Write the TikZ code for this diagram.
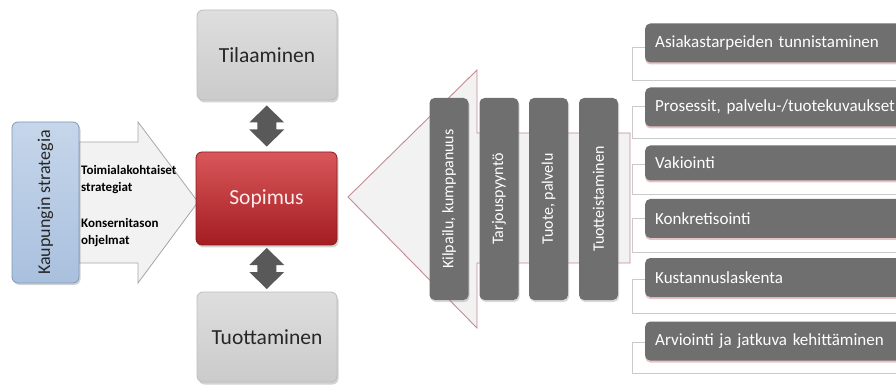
\documentclass[tikz,border=0pt]{standalone}
\usepackage{fontspec}
\setmainfont{Carlito}
\usetikzlibrary{shadows,calc}
\definecolor{bluefillA}{HTML}{C6D6EA}
\definecolor{bluefillB}{HTML}{A9C0DE}
\definecolor{blueline}{HTML}{7F97B8}
\definecolor{arrowfill}{HTML}{F2F2F2}
\definecolor{arrowline}{HTML}{A6A6A6}
\definecolor{grayA}{HTML}{DEDEDE}
\definecolor{grayB}{HTML}{CBCBCB}
\definecolor{grayline}{HTML}{BDBDBD}
\definecolor{redA}{HTML}{D9575A}
\definecolor{redB}{HTML}{A31D21}
\definecolor{redline}{HTML}{8C1A1D}
\definecolor{darkarrow}{HTML}{595959}
\definecolor{pinkline}{HTML}{C48A92}
\definecolor{barfill}{HTML}{6F6F6F}
\definecolor{bracketline}{HTML}{CACACA}
\definecolor{pinkshadow}{HTML}{E6C3C6}
\definecolor{textdark}{HTML}{262626}
\newcommand{\myudarrow}[1]{%
  \fill[udarrow] ($(#1)+(0,-20.5)$) -- ($(#1)+(17.5,-3.5)$) -- ($(#1)+(9.5,-3.5)$) -- ($(#1)+(9.5,3.5)$)
    -- ($(#1)+(17.5,3.5)$) -- ($(#1)+(0,20.5)$) -- ($(#1)+(-17.5,3.5)$) -- ($(#1)+(-9.5,3.5)$)
    -- ($(#1)+(-9.5,-3.5)$) -- ($(#1)+(-17.5,-3.5)$) -- cycle;}
\begin{document}
\begin{tikzpicture}[x=1pt,y=-1pt,
  stratbox/.style={draw=blueline, line width=0.8pt, top color=bluefillA, bottom color=bluefillB,
    rounded corners=6pt, minimum width=67pt, minimum height=161pt, inner sep=0pt,
    text=textdark, font=\fontsize{18}{20}\selectfont,
    drop shadow={shadow xshift=1.5pt, shadow yshift=-2pt, opacity=0.35}},
  larrow/.style={draw=arrowline, line width=0.8pt, fill=arrowfill},
  armtext/.style={anchor=west, align=left, inner sep=0pt, font=\fontsize{13}{17}\selectfont\bfseries, text=black},
  graybox/.style={draw=grayline, line width=0.8pt, top color=grayA, bottom color=grayB,
    rounded corners=6pt, minimum width=140pt, minimum height=90pt, inner sep=0pt,
    text=textdark, font=\fontsize{21.5}{24}\selectfont,
    drop shadow={shadow xshift=1.5pt, shadow yshift=-2.5pt, opacity=0.35}},
  redbox/.style={draw=redline, line width=0.8pt, top color=redA, bottom color=redB,
    rounded corners=6pt, minimum width=141pt, minimum height=93pt, inner sep=0pt,
    text=white!92!red, font=\fontsize{21.5}{24}\selectfont,
    drop shadow={shadow xshift=1.5pt, shadow yshift=-2.5pt, opacity=0.35}},
  udarrow/.style={fill=darkarrow},
  bigarrow/.style={draw=pinkline, line width=0.9pt, fill=arrowfill},
  vbar/.style={fill=barfill, rounded corners=5pt, minimum width=39pt, minimum height=202pt,
    inner sep=0pt, text=white, font=\fontsize{16}{18}\selectfont,
    drop shadow={shadow xshift=1pt, shadow yshift=-2pt, opacity=0.3}},
  hbar/.style={fill=barfill, rounded corners=5pt, anchor=west, minimum height=39pt,
    text width=250pt, align=left, inner xsep=10pt, inner ysep=0pt, text=white,
    font=\fontsize{17}{19}\selectfont,
    drop shadow={shadow xshift=0pt, shadow yshift=-2pt, opacity=1, fill=pinkshadow}},
  bracket/.style={draw=bracketline, line width=0.8pt}
]
\useasboundingbox (0,0) rectangle (896,387);

% left big arrow and strategy box
\draw[larrow] (79,142) -- (138,142) -- (138,122) -- (198,202) -- (138,283) -- (138,263) -- (79,263) -- cycle;
\node[stratbox] (strat) at (45.5,202.5) {\rotatebox{90}{Kaupungin strategia}};
\node[armtext] (t1) at (81,180) {Toimialakohtaiset\\strategiat};
\node[armtext] (t2) at (81,233) {Konsernitason\\ohjelmat};

% centre column
\node[graybox] (tila) at (267,55) {Tilaaminen};
\node[redbox] (sop) at (266.5,198.5) {Sopimus};
\node[graybox] (tuot) at (267,337) {Tuottaminen};

\coordinate (m1) at ($(tila.south)!0.5!(sop.north)$);
\coordinate (m2) at ($(sop.south)!0.5!(tuot.north)$);
\myudarrow{m1}
\myudarrow{m2}

% big left-pointing arrow
\draw[bigarrow] (348,197) -- (477,70) -- (477,133) -- (630,133) -- (630,263) -- (477,263) -- (477,328) -- cycle;

% vertical bars
\node[vbar] (v1) at (449,199) {\rotatebox{90}{Kilpailu, kumppanuus}};
\node[vbar] (v2) at (499,199) {\rotatebox{90}{Tarjouspyyntö}};
\node[vbar] (v3) at (548.5,199) {\rotatebox{90}{Tuote, palvelu}};
\node[vbar] (v4) at (598.5,199) {\rotatebox{90}{Tuotteistaminen}};

% right list: brackets
\draw[bracket] (632,47) rectangle (920,80);
\draw[bracket] (632,106) rectangle (920,138);
\draw[bracket] (632,164) rectangle (920,194);
\draw[bracket] (632,218) rectangle (920,252);
\draw[bracket] (632,279) rectangle (920,313);
\draw[bracket] (632,342) rectangle (920,373);

% right list: bars
\node[hbar] (r1) at (645,43) {Asiakastarpeiden tunnistaminen};
\node[hbar] (r2) at (645,107) {Prosessit, palvelu-/tuotekuvaukset};
\node[hbar, minimum height=35pt] (r3) at (645,163) {Vakiointi};
\node[hbar] (r4) at (645,218.5) {Konkretisointi};
\node[hbar] (r5) at (645,277.5) {Kustannuslaskenta};
\node[hbar] (r6) at (645,341) {Arviointi ja jatkuva kehittäminen};
\end{tikzpicture}
\end{document}
